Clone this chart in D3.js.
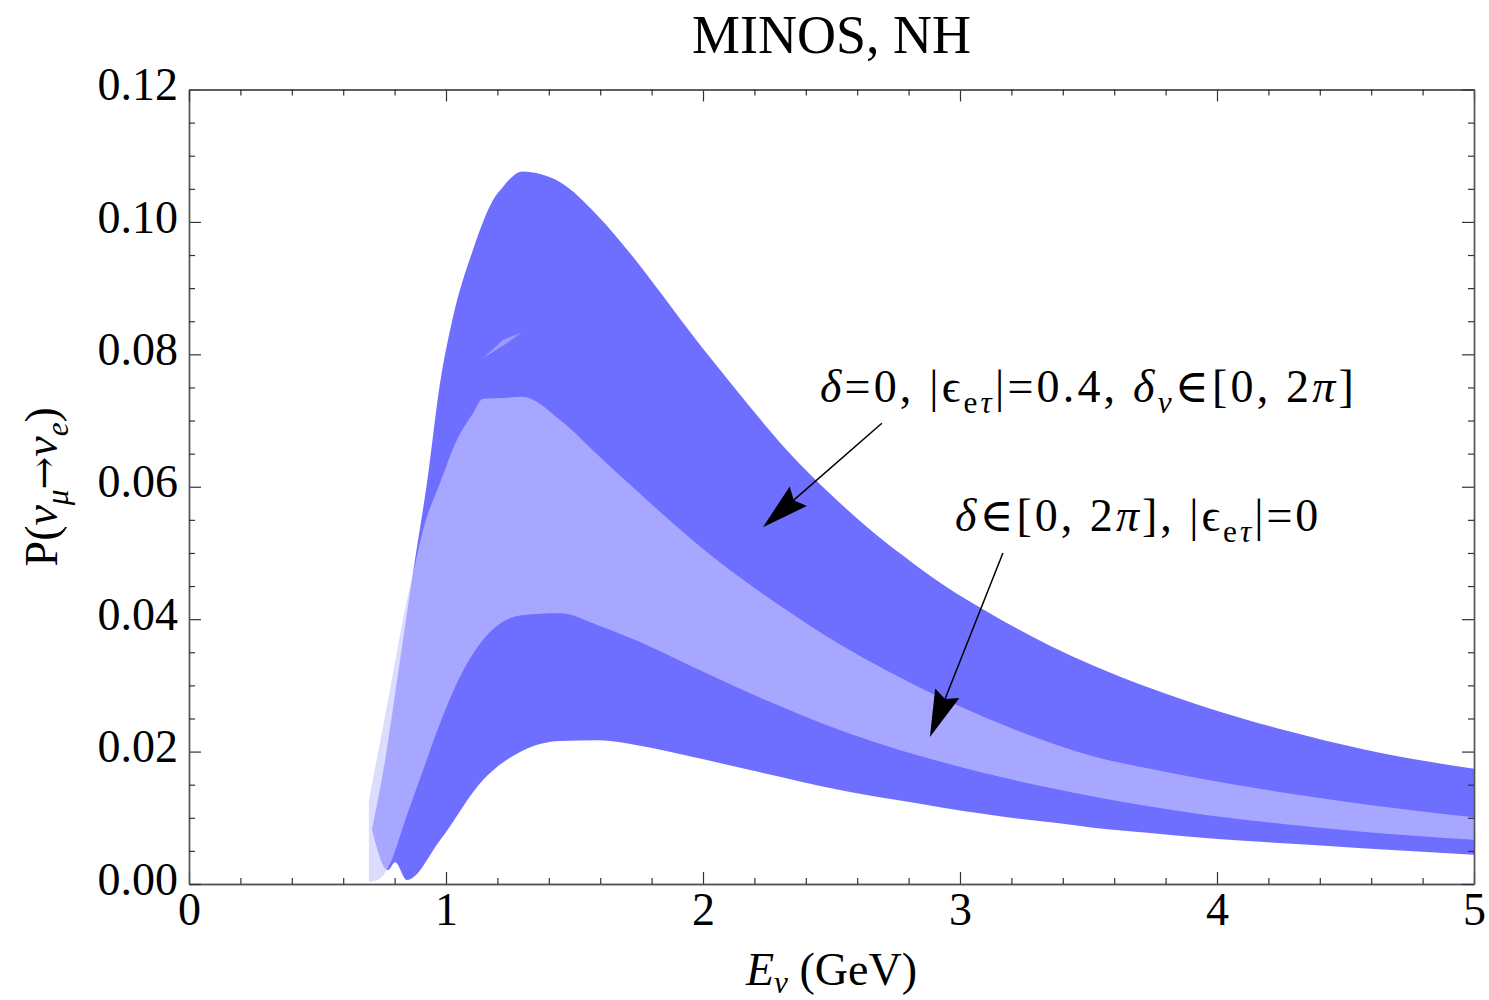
<!DOCTYPE html>
<html>
<head>
<meta charset="utf-8">
<script src="https://cdn.jsdelivr.net/npm/d3@7"></script>
<style>
body { margin: 0; background: #fff; }
svg text { font-family: "Liberation Serif", "Times New Roman", "DejaVu Serif", serif; fill: #000; }
</style>
</head>
<body>
<div class="chart"></div>
<script>
// [E (GeV), P]

// delta=0, |eps_etau|=0.4, delta_nu in [0,2pi]  (dark band)
var epsUpper = [
    [0.712, 0.0082], [0.763, 0.0187], [0.821, 0.0338], [0.879, 0.0489], [0.926, 0.0606],
    [0.977, 0.0757], [1.027, 0.0856], [1.105, 0.0958], [1.144, 0.1000], [1.183, 0.1033],
    [1.222, 0.1053], [1.257, 0.1068], [1.296, 0.1076], [1.444, 0.1060], [1.591, 0.1009],
    [1.728, 0.0947], [1.833, 0.0894], [1.949, 0.0834], [2.105, 0.0758], [2.339, 0.0650],
    [2.482, 0.0594], [2.630, 0.0542], [2.778, 0.0496], [2.930, 0.0453], [3.156, 0.0400],
    [3.350, 0.0360], [3.518, 0.0330], [3.739, 0.0296], [3.965, 0.0266], [4.276, 0.0231],
    [4.564, 0.0204], [4.821, 0.0185], [5.000, 0.0174]
];
var epsLower = [
    [0.712, 0.0082], [0.774, 0.0021], [0.802, 0.0033], [0.848, 0.0006], [0.977, 0.0066],
    [1.144, 0.0157], [1.296, 0.0201], [1.444, 0.0216], [1.591, 0.0217], [1.739, 0.0210],
    [1.949, 0.0193], [2.183, 0.0172], [2.377, 0.0155], [2.572, 0.0139], [2.767, 0.0126],
    [2.922, 0.0116], [3.089, 0.0106], [3.222, 0.0099], [3.377, 0.0092], [3.518, 0.0085],
    [3.739, 0.0077], [3.965, 0.0069], [4.276, 0.0061], [4.564, 0.0054], [5.000, 0.0044]
];

// delta in [0,2pi], |eps_etau|=0  (light band)
var stdUpper = [
    [0.700, 0.0127], [0.782, 0.0293], [0.840, 0.0414], [0.879, 0.0482], [0.911, 0.0535],
    [0.977, 0.0606], [1.043, 0.0671], [1.105, 0.0711], [1.144, 0.0733], [1.222, 0.0734],
    [1.296, 0.0736], [1.444, 0.0701], [1.591, 0.0648], [1.739, 0.0595], [1.883, 0.0545],
    [2.039, 0.0494], [2.183, 0.0452], [2.339, 0.0410], [2.482, 0.0374], [2.572, 0.0353],
    [2.767, 0.0312], [2.922, 0.0282], [3.089, 0.0253], [3.222, 0.0232], [3.377, 0.0210],
    [3.518, 0.0193], [3.739, 0.0174], [3.965, 0.0157], [4.276, 0.0137], [4.564, 0.0121],
    [5.000, 0.0101]
];
var stdLower = [
    [0.700, 0.0003], [0.735, 0.0006], [0.774, 0.0024], [0.848, 0.0104], [0.911, 0.0172],
    [0.977, 0.0243], [1.043, 0.0304], [1.144, 0.0369], [1.296, 0.0406], [1.444, 0.0409],
    [1.591, 0.0391], [1.739, 0.0368], [1.949, 0.0330], [2.183, 0.0288], [2.377, 0.0256],
    [2.572, 0.0227], [2.767, 0.0202], [2.922, 0.0185], [3.089, 0.0168], [3.222, 0.0156],
    [3.377, 0.0143], [3.518, 0.0132], [3.739, 0.0117], [3.965, 0.0104], [4.276, 0.0090],
    [4.564, 0.0079], [5.000, 0.0067]
];

// small light sliver inside the dark band
var sliver = [[1.144, 0.0794], [1.222, 0.0822], [1.296, 0.0833], [1.222, 0.0813]];

var xTicks = [0, 1, 2, 3, 4, 5];
var yTicks = [0, 0.02, 0.04, 0.06, 0.08, 0.10, 0.12];

// annotations: label anchor, arrow start, arrow tip
var label1 = [2.455, 0.0728];
var arrow1 = [[2.696, 0.0696], [2.233, 0.0539]];
var label2 = [2.981, 0.0533];
var arrow2 = [[3.167, 0.0500], [2.883, 0.0222]];

var options = {
    width: 1489,
    height: 1000,
    left: 189,
    right: 1474,
    top: 89.5,
    bottom: 884
};

var svg = d3.select(".chart").append("svg")
    .attr("width", options.width)
    .attr("height", options.height);

var x = d3.scaleLinear().domain([0, 5]).range([options.left, options.right]);
var y = d3.scaleLinear().domain([0, 0.12]).range([options.bottom, options.top]);

var line = d3.line()
    .x(function(d) { return x(d[0]); })
    .y(function(d) { return y(d[1]); })
    .curve(d3.curveMonotoneX);

function band(upper, lower) {
    var back = line(lower.slice().reverse()).replace(/^M/, "L");
    return line(upper) + back + "Z";
}

svg.append("defs").append("clipPath").attr("id", "plot")
    .append("rect")
    .attr("x", options.left).attr("y", options.top)
    .attr("width", options.right - options.left)
    .attr("height", options.bottom - options.top);

var g = svg.append("g").attr("clip-path", "url(#plot)");

g.append("path")
    .attr("d", band(epsUpper, epsLower))
    .attr("fill", "#6e6eff");

g.append("path")
    .attr("d", band(stdUpper, stdLower))
    .attr("fill", "rgb(200,200,255)")
    .attr("fill-opacity", 0.64);

g.append("path")
    .attr("d", d3.line().x(function(d) { return x(d[0]); }).y(function(d) { return y(d[1]); })(sliver) + "Z")
    .attr("fill", "rgb(200,200,255)")
    .attr("fill-opacity", 0.5);

// frame + ticks
var minorX = d3.range(0, 5.0001, 0.2).filter(function(v) { return Math.abs(v - Math.round(v)) > 1e-6; });
var minorY = d3.range(0, 0.12001, 0.005).filter(function(v) { return Math.abs(v / 0.02 - Math.round(v / 0.02)) > 1e-6; });

function styleAxis(sel) {
    sel.selectAll("path").attr("stroke", "#555").attr("stroke-width", 1.4);
    sel.selectAll("line").attr("stroke", "#333").attr("stroke-width", 1.2);
    sel.selectAll("text")
        .style("font-family", '"Liberation Serif", "Times New Roman", serif')
        .style("font-size", "46px")
        .attr("fill", "#000");
}

var bottomAxis = svg.append("g")
    .attr("transform", "translate(0," + options.bottom + ")")
    .call(d3.axisBottom(x).tickValues(xTicks).tickSize(-12).tickSizeOuter(0).tickPadding(8)
        .tickFormat(d3.format("d")));
svg.append("g")
    .attr("transform", "translate(0," + options.bottom + ")")
    .call(d3.axisBottom(x).tickValues(minorX).tickSize(-6).tickSizeOuter(0).tickFormat(""))
    .call(styleAxis);
styleAxis(bottomAxis);

var leftAxis = svg.append("g")
    .attr("transform", "translate(" + options.left + ",0)")
    .call(d3.axisLeft(y).tickValues(yTicks).tickSize(-12).tickSizeOuter(0).tickPadding(11)
        .tickFormat(d3.format(".2f")));
leftAxis.selectAll("text").attr("dy", "0.22em");
svg.append("g")
    .attr("transform", "translate(" + options.left + ",0)")
    .call(d3.axisLeft(y).tickValues(minorY).tickSize(-6).tickSizeOuter(0).tickFormat(""))
    .call(styleAxis);
styleAxis(leftAxis);

svg.append("g")
    .attr("transform", "translate(0," + options.top + ")")
    .call(d3.axisTop(x).tickValues(xTicks).tickSize(-12).tickSizeOuter(0).tickFormat(""))
    .call(styleAxis);
svg.append("g")
    .attr("transform", "translate(0," + options.top + ")")
    .call(d3.axisTop(x).tickValues(minorX).tickSize(-6).tickSizeOuter(0).tickFormat(""))
    .call(styleAxis);

svg.append("g")
    .attr("transform", "translate(" + options.right + ",0)")
    .call(d3.axisRight(y).tickValues(yTicks).tickSize(-12).tickSizeOuter(0).tickFormat(""))
    .call(styleAxis);
svg.append("g")
    .attr("transform", "translate(" + options.right + ",0)")
    .call(d3.axisRight(y).tickValues(minorY).tickSize(-6).tickSizeOuter(0).tickFormat(""))
    .call(styleAxis);

// rich text: parts = [text, "i" italic / "s" subscript / "si" / "a" arrow glyph]
function rich(sel, parts, size, drop) {
    var shift = 0;
    drop = drop || 0.24;
    parts.forEach(function(p) {
        var t = sel.append("tspan").text(p[0]);
        var style = p[1] || "";
        var target = style.indexOf("s") >= 0 ? size * drop : 0;
        if (target !== shift) { t.attr("dy", target - shift); shift = target; }
        if (style.indexOf("s") >= 0) t.attr("font-size", size * 0.68);
        if (style.indexOf("i") >= 0) t.attr("font-style", "italic");
        if (style.indexOf("a") >= 0) t.style("font-family", '"DejaVu Serif", serif').attr("font-size", size * 0.85);
    });
    return sel;
}

// title
svg.append("text")
    .attr("x", (options.left + options.right) / 2)
    .attr("y", 53)
    .attr("text-anchor", "middle")
    .attr("font-size", 54)
    .text("MINOS, NH");

// axis labels
rich(svg.append("text")
    .attr("x", (options.left + options.right) / 2)
    .attr("y", 985)
    .attr("text-anchor", "middle")
    .attr("font-size", 46),
    [["E", "i"], ["ν", "si"], [" (GeV)"]], 46, 0.18);

rich(svg.append("text")
    .attr("transform", "translate(57," + (options.top + options.bottom) / 2 + ") rotate(-90)")
    .attr("text-anchor", "middle")
    .attr("font-size", 46),
    [["P("], ["ν", "i"], ["μ", "si"], ["→", "a"], ["ν", "i"], ["e", "si"], [")"]], 46);

// annotations
rich(svg.append("text")
    .attr("x", x(label1[0])).attr("y", y(label1[1]))
    .attr("font-size", 46)
    .attr("letter-spacing", 3.2),
    [["δ", "i"], ["=0, |ϵ"], ["e", "s"], ["τ", "si"], ["|=0.4, "], ["δ", "i"], ["ν", "si"],
     ["∈[0, 2"], ["π", "i"], ["]"]], 46);

rich(svg.append("text")
    .attr("x", x(label2[0])).attr("y", y(label2[1]))
    .attr("font-size", 46)
    .attr("letter-spacing", 3.0),
    [["δ", "i"], ["∈[0, 2"], ["π", "i"], ["], |ϵ"], ["e", "s"], ["τ", "si"], ["|=0"]], 46);

function arrow(a) {
    var x1 = x(a[0][0]), y1 = y(a[0][1]), x2 = x(a[1][0]), y2 = y(a[1][1]);
    var len = Math.sqrt((x2 - x1) * (x2 - x1) + (y2 - y1) * (y2 - y1));
    var ux = (x2 - x1) / len, uy = (y2 - y1) / len;
    var px = -uy, py = ux;
    var L = 47, W = 13, N = 41;
    svg.append("line")
        .attr("x1", x1).attr("y1", y1)
        .attr("x2", x2 - ux * N).attr("y2", y2 - uy * N)
        .attr("stroke", "#000").attr("stroke-width", 1.5);
    var pts = [
        [x2, y2],
        [x2 - ux * L + px * W, y2 - uy * L + py * W],
        [x2 - ux * N, y2 - uy * N],
        [x2 - ux * L - px * W, y2 - uy * L - py * W]
    ];
    svg.append("path")
        .attr("d", "M" + pts.join("L") + "Z")
        .attr("fill", "#000");
}

arrow(arrow1);
arrow(arrow2);
</script>
</body>
</html>
